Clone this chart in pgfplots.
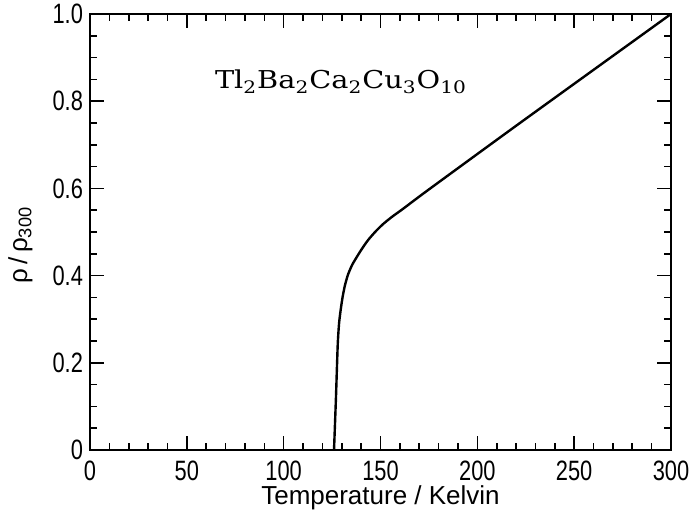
\documentclass[border=0pt]{standalone}
\usepackage{fontspec}
\setmainfont{Liberation Sans}
\newfontfamily\tickfont[FakeStretch=0.78]{Liberation Sans}
\newfontfamily\formfont[FakeStretch=1.17]{DejaVu Serif}
\usepackage{pgfplots}
\pgfplotsset{compat=1.18}

\begin{document}
\begin{tikzpicture}
\path[use as bounding box] (-45pt,-34.5pt) rectangle (303pt,225pt);
\begin{axis}[
    at={(0,0)}, anchor=south west,
    scale only axis,
    width=290.5pt, height=218pt,
    xmin=0, xmax=300, ymin=0, ymax=1.0,
    xtick={0,50,...,300},
    minor x tick num=4,
    ytick={0,0.2,0.4,0.6,0.8,1.0},
    yticklabels={0,0.2,0.4,0.6,0.8,1.0},
    xticklabels={0,50,100,150,200,250,300},
    minor y tick num=3,
    tick align=inside,
    major tick length=7pt,
    minor tick length=3.5pt,
    axis line style={line width=1pt},
    every tick/.style={black, line width=0.8pt},
    tick label style={font=\tickfont\fontsize{14}{16}\selectfont},
    xticklabel style={yshift=-2pt},
    /pgf/number format/assume math mode=true,
    xlabel={Temperature / Kelvin},
    ylabel={ρ\,/\,ρ\textsubscript{300}},
    label style={font=\fontsize{13}{15}\selectfont},
    xlabel style={at={(axis description cs:0.5,-0.11)}, anchor=center},
    ylabel style={at={(axis description cs:-0.12,0.47)}, anchor=center},
]
\addplot[black, line width=1.2pt, smooth, tension=0.4] coordinates {
    (126.0,0)
    (127.0,0.12)
    (127.9,0.24)
    (128.6,0.29)
    (129.4,0.32)
    (130.4,0.35)
    (131.6,0.377)
    (133.2,0.402)
    (135.3,0.424)
    (137.8,0.443)
    (140.5,0.462)
    (143.5,0.481)
    (147.2,0.500)
    (151.3,0.518)
    (156.0,0.535)
    (161.6,0.553)
    (174.5,0.596)
    (222.0,0.750)
    (300.0,1.0)
};
\node at (axis cs:129.6,0.844) {\formfont\fontsize{12.3}{14}\selectfont Tl\textsubscript{2}Ba\textsubscript{2}Ca\textsubscript{2}Cu\textsubscript{3}O\textsubscript{10}};
\end{axis}
\end{tikzpicture}
\end{document}
